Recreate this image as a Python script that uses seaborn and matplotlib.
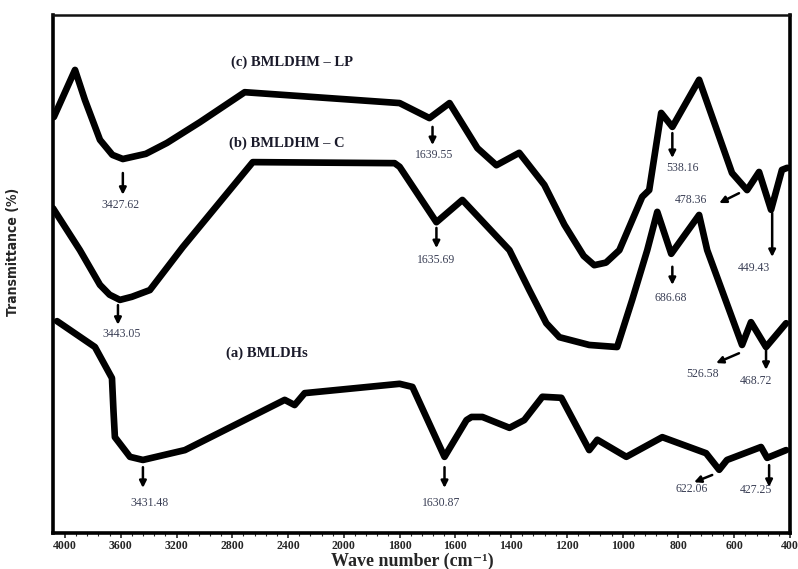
import numpy as np
import pandas as pd
import seaborn as sns
import matplotlib.pyplot as plt
from matplotlib.ticker import FixedLocator, NullFormatter

# spectra (wavenumber cm-1, transmittance arb.)
c_wn = [4080, 3928, 3857, 3749, 3660, 3585, 3420, 3269, 3033, 2711, 1800, 1693, 1621, 1521, 1453,
        1371, 1281, 1209, 1140, 1102, 1060, 1012, 930, 905, 862, 822, 726, 608, 554, 511, 468,
        429, 410]
c_t = [80.3, 89.4, 83.6, 75.9, 73.0, 72.2, 73.2, 75.3, 79.3, 85.1, 83.0, 80.1, 83.0, 74.3, 71.0,
       73.4, 67.2, 59.5, 53.5, 51.7, 52.2, 54.6, 64.9, 66.2, 81.1, 78.4, 87.5, 69.5, 66.2, 69.7,
       62.4, 70.1, 70.5]

b_wn = [4086, 3893, 3749, 3680, 3606, 3520, 3391, 3155, 2653, 1818, 1800, 1668, 1575, 1406,
        1335, 1274, 1227, 1120, 1020, 966, 912, 876, 826, 726, 697, 572, 540, 486, 414]
b_t = [62.7, 54.6, 47.9, 46.0, 45.0, 45.6, 46.9, 55.2, 71.6, 71.4, 70.7, 60.0, 64.3, 54.6,
       46.9, 40.5, 37.8, 36.3, 35.9, 45.0, 54.6, 62.0, 53.9, 61.4, 54.6, 36.3, 40.7, 35.9, 40.5]

a_wn = [4057, 3785, 3663, 3652, 3642, 3534, 3441, 3140, 2424, 2353, 2281, 1800, 1754, 1639,
        1560, 1542, 1503, 1406, 1353, 1288, 1220, 1120, 1091, 987, 858, 701, 654, 626, 504,
        482, 414]
a_t = [40.9, 35.9, 29.9, 23.5, 18.5, 14.7, 14.1, 16.0, 25.7, 24.7, 27.0, 28.8, 28.2, 14.7,
       21.8, 22.4, 22.4, 20.3, 21.8, 26.3, 26.1, 16.0, 18.0, 14.7, 18.5, 15.4, 12.2, 14.1, 16.6,
       14.5, 16.0]

# sample names
names = ["(c) BMLDHM \u2013 LP", "(b) BMLDHM \u2013 C", "(a) BMLDHs"]
name_xy = [(2374, 90.9), (2410, 75.3), (2553, 34.7)]

# peak labels with straight-down arrows: text, arrow x, arrow top, arrow bottom, text x, text y
down_peaks = [
    ("3427.62", 3585, 69.5, 65.3, 3599, 63.3),
    ("1639.55", 1682, 78.4, 74.9, 1675, 73.0),
    ("538.16", 822, 77.2, 72.4, 787, 70.5),
    ("449.43", 464, 61.8, 53.3, 529, 51.2),
    ("3443.05", 3620, 44.0, 40.2, 3592, 38.4),
    ("1635.69", 1668, 58.9, 55.0, 1668, 52.7),
    ("686.68", 822, 51.4, 47.9, 826, 45.4),
    ("468.72", 486, 35.3, 31.5, 521, 29.3),
    ("3431.48", 3441, 12.7, 8.7, 3391, 5.8),
    ("1630.87", 1639, 12.7, 8.7, 1650, 5.8),
    ("427.25", 475, 13.1, 8.9, 521, 8.3),
]
# peak labels with slanted arrows: text, tail x, tail y, head x, head y, text x, text y
side_peaks = [
    ("478.36", 583, 65.6, 654, 63.7, 754, 64.3),
    ("526.58", 583, 34.7, 665, 32.8, 715, 30.7),
    ("622.06", 679, 11.2, 744, 9.8, 751, 8.5),
]

major_ticks = [4000, 3600, 3200, 2800, 2400, 2000, 1800, 1600, 1400, 1200, 1000, 800, 600, 400]


def fwd(x):
    x = np.asarray(x, dtype=float)
    return np.where(x > 2000, 2000 + (x - 2000) / 2, x)


def inv(t):
    t = np.asarray(t, dtype=float)
    return np.where(t > 2000, 2000 + 2 * (t - 2000), t)


sns.set_style("white")
fig = plt.figure(figsize=(7.98, 5.69), dpi=100)
ax = fig.add_axes([0.0664, 0.0633, 0.9236, 0.9103])

for wn, tr in [(c_wn, c_t), (b_wn, b_t), (a_wn, a_t)]:
    df = pd.DataFrame({"wn": wn, "T": tr})
    sns.lineplot(data=df, x="wn", y="T", ax=ax, color="black", linewidth=4.8,
                 sort=False, estimator=None, solid_joinstyle="round", solid_capstyle="round")

ax.set_xscale("function", functions=(fwd, inv))
ax.set_xlim(4086, 400)
ax.set_ylim(0, 100)

serif = ["Liberation Serif", "DejaVu Serif"]
for txt, (x, y) in zip(names, name_xy):
    ax.text(x, y, txt, ha="center", va="center", fontsize=10.5, fontweight="bold",
            family=serif, color="#1a1a2a")

ann_color = "#3a3f55"
for txt, ax_x, y0, y1, tx, ty in down_peaks:
    ax.annotate("", xy=(ax_x, y1), xytext=(ax_x, y0),
                arrowprops=dict(arrowstyle="-|>", color="black", lw=1.8,
                                mutation_scale=10, shrinkA=0, shrinkB=0))
    ax.text(tx, ty, txt, ha="center", va="center", fontsize=8.5, family=serif, color=ann_color)

for txt, x0, y0, x1, y1, tx, ty in side_peaks:
    ax.annotate("", xy=(x1, y1), xytext=(x0, y0),
                arrowprops=dict(arrowstyle="-|>", color="black", lw=1.8,
                                mutation_scale=10, shrinkA=0, shrinkB=0))
    ax.text(tx, ty, txt, ha="center", va="center", fontsize=8.5, family=serif, color=ann_color)

# axes styling
ax.xaxis.set_major_locator(FixedLocator(major_ticks))
ax.set_xticklabels([str(v) for v in major_ticks])
minor = list(np.arange(4000, 2000, -80)) + list(np.arange(2000, 399, -40))
ax.xaxis.set_minor_locator(FixedLocator(minor))
ax.xaxis.set_minor_formatter(NullFormatter())
ax.tick_params(axis="x", which="major", direction="out", length=3.5, width=1.2, pad=1.5,
               bottom=True, labelsize=8.5)
ax.tick_params(axis="x", which="minor", direction="out", length=2.5, width=0.8, bottom=True)
for lab in ax.get_xticklabels():
    lab.set_fontweight("bold")
    lab.set_family(serif)
ax.set_yticks([])

for side in ["left", "bottom", "right"]:
    ax.spines[side].set_linewidth(2.6)
    ax.spines[side].set_color("black")
ax.spines["top"].set_linewidth(1.8)
ax.spines["top"].set_color("#111111")

ax.set_xlabel("Wave number (cm\u207b\u00b9)", fontsize=13, fontweight="bold", family=serif)
ax.xaxis.set_label_coords(0.488, -0.038)
ax.set_ylabel("Transmittance (%)", fontsize=10, fontweight="bold",
              family=["DejaVu Sans"], fontstretch="condensed")
ax.yaxis.set_label_coords(-0.045, 0.542)

plt.savefig("out.png", dpi=100)
